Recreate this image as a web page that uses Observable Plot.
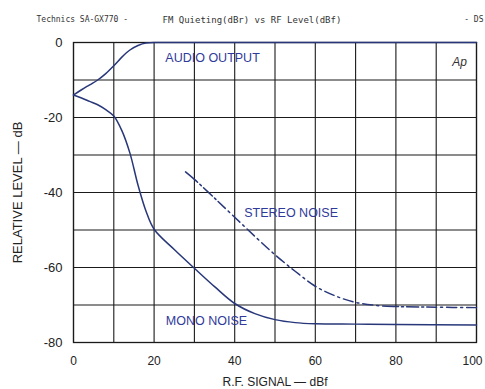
<!DOCTYPE html>
<html><head><meta charset="utf-8">
<script src="https://cdn.jsdelivr.net/npm/d3@7"></script>
<script src="https://cdn.jsdelivr.net/npm/@observablehq/plot@0.6"></script>
<style>body{margin:0;background:#fff}svg{font-family:"Liberation Sans",Arial,sans-serif}</style>
</head><body><div id="chart"></div>
<script>
const audioX = [0,2,4,6,8,10,12,14,16,18,20,25,30,40,60,80,100];
const audioY = [-14,-12.6,-11.3,-10,-8.3,-6.2,-3.9,-2,-0.8,-0.15,0,0,0,0,0,0,0];
const monoX = [0,2,4,6,8,10,12,14,16,18,20,25,30,35,40,45,50,55,60,70,80,100];
const monoY = [-14,-14.8,-15.7,-16.6,-17.9,-19.6,-23.5,-29.5,-38,-45,-49.8,-55.2,-60.2,-65.1,-69.6,-72.3,-73.9,-74.7,-75,-75.1,-75.2,-75.3];
const stereoX = [27.8,30,35,40,45,50,55,60,65,70,75,80,90,100];
const stereoY = [-34.5,-36.5,-41.5,-46.6,-51.7,-56.6,-61,-65,-67.6,-69.3,-70.1,-70.4,-70.6,-70.7];
const xTicks = [0,20,40,60,80];
const xLastTick = [100];
const yTicks = [0,-20,-40,-60,-80];
const labels = [
  {x: 34.5, y: -4.1, text: "AUDIO OUTPUT"},
  {x: 54, y: -45.4, text: "STEREO NOISE"},
  {x: 33, y: -74.3, text: "MONO NOISE"}
];
const toRows = (xs, ys) => xs.map((x, i) => ({x, y: ys[i]}));
const lineColor = "#28377a", textColor = "#2f3a9a";

const chart = Plot.plot({
  width: 485, height: 389,
  marginTop: 42, marginLeft: 73, marginRight: 9, marginBottom: 47,
  style: {fontFamily: "Liberation Sans, Arial, sans-serif", background: "#fff"},
  x: {domain: [0, 100]},
  y: {domain: [-80, 0]},
  marks: [
    Plot.gridX(d3.range(0, 101, 10), {stroke: "#1a1a1a", strokeOpacity: 1, strokeWidth: 1.1}),
    Plot.gridY(d3.range(-80, 1, 10), {stroke: "#1a1a1a", strokeOpacity: 1, strokeWidth: 1.1}),
    Plot.frame({stroke: "#1a1a1a", strokeWidth: 1.3}),
    Plot.axisX({ticks: xTicks, tickSize: 0, tickPadding: 14, fontSize: 12, fill: "#222",
      label: "R.F. SIGNAL — dBf", labelAnchor: "center", labelArrow: "none", labelOffset: 43}),
    Plot.axisX({ticks: xLastTick, tickSize: 0, tickPadding: 14, fontSize: 12, fill: "#222", textAnchor: "end", dx: 6, label: null}),
    Plot.axisY({ticks: yTicks, tickSize: 0, tickPadding: 11, fontSize: 13, fill: "#222",
      tickFormat: d => d === 0 ? "0" : "-" + Math.abs(d),
      label: "RELATIVE LEVEL — dB", labelAnchor: "center", labelArrow: "none", labelOffset: 61}),
    Plot.line(toRows(audioX, audioY), {x: "x", y: "y", stroke: lineColor, strokeWidth: 1.5, curve: "monotone-x"}),
    Plot.line(toRows(monoX, monoY), {x: "x", y: "y", stroke: lineColor, strokeWidth: 1.5, curve: "catmull-rom"}),
    Plot.line(toRows(stereoX, stereoY), {x: "x", y: "y", stroke: lineColor, strokeWidth: 1.5, curve: "catmull-rom", strokeDasharray: "16,3,2,3,12,3,2,3,10,4,2,4,10,4,2,4,10,4,2,4,10,4,2,4,10,4,2,4,10,4,2,4,10,4,2,4,10,4,2,4,10,4,2,4,10,4,2,4"}),
    Plot.text(labels, {x: "x", y: "y", text: "text", fill: textColor, fontSize: 12.5, textAnchor: "middle"}),
    Plot.text(["Technics SA-GX770 -"], {frameAnchor: "top-left", dx: -37, dy: -26, fontFamily: "DejaVu Sans Mono", fontSize: 8, fill: "#333", textAnchor: "start"}),
    Plot.text(["FM Quieting(dBr) vs RF Level(dBf)"], {frameAnchor: "top-left", dx: 89, dy: -26, fontFamily: "DejaVu Sans Mono", fontSize: 9, fill: "#333", textAnchor: "start"}),
    Plot.text(["- DS"], {frameAnchor: "top-right", dx: 7, dy: -26, fontFamily: "DejaVu Sans Mono", fontSize: 8, fill: "#333", textAnchor: "end"}),
    Plot.text(["Ap"], {frameAnchor: "top-right", dx: -17, dy: 15, fontSize: 12, fontStyle: "italic", fill: "#333", textAnchor: "middle"})
  ]
});
document.getElementById("chart").append(chart);
</script></body></html>
